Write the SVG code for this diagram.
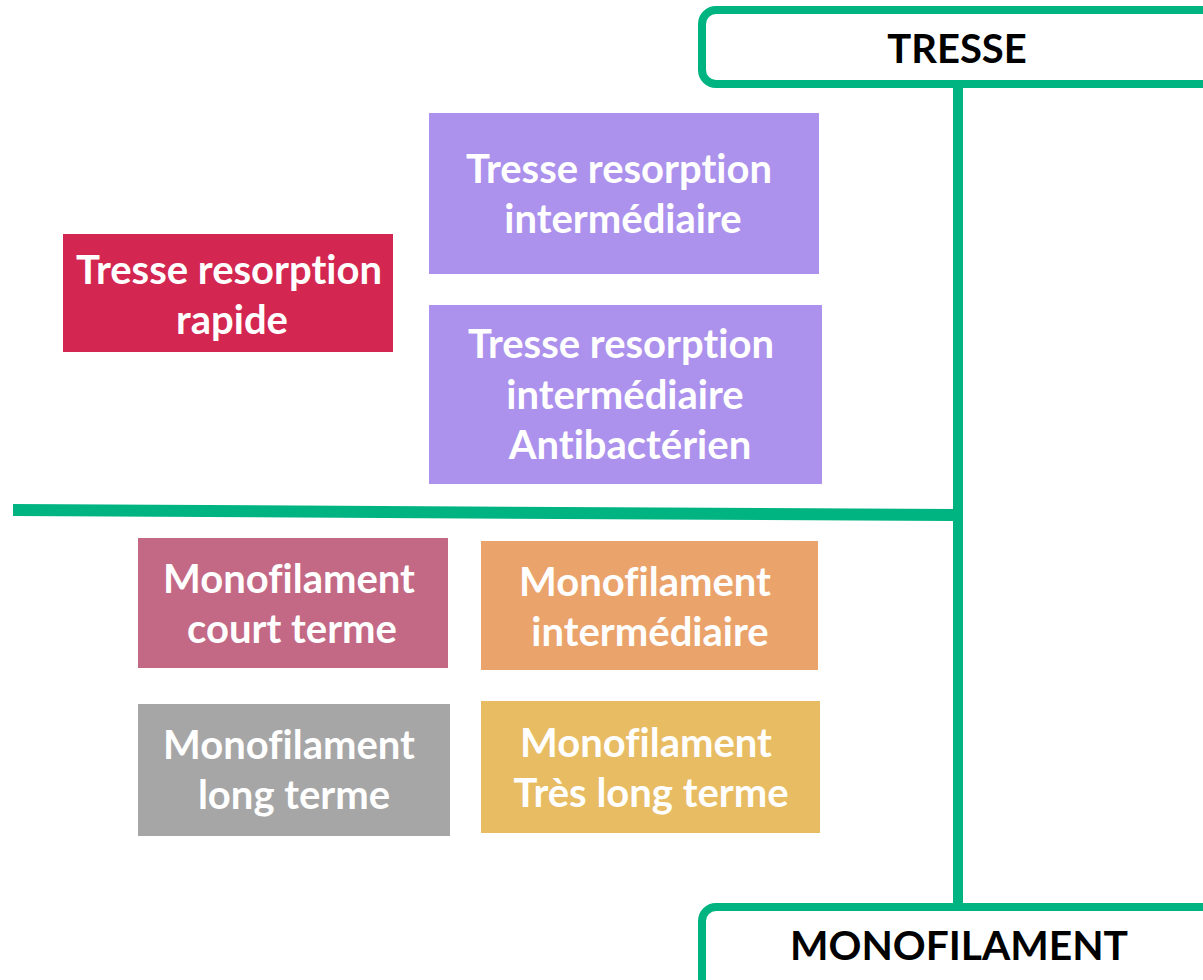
<svg xmlns="http://www.w3.org/2000/svg" width="1203" height="980" viewBox="0 0 1203 980">
<style>
.lbl{font-family:Lato,"Open Sans","Liberation Sans",sans-serif;font-weight:bold;font-size:40px;fill:#ffffff;text-anchor:middle;font-variant-ligatures:none}
.hd{font-family:Lato,"Open Sans","Liberation Sans",sans-serif;font-weight:bold;font-size:40px;fill:#000000;text-anchor:middle;font-variant-ligatures:none}
.frame{fill:#ffffff;stroke:#00B482;stroke-width:8}
.ln{stroke:#00B482;fill:none}
</style>
<rect x="0" y="0" width="1203" height="980" fill="#ffffff"/>
<g id="connectors">
<line class="ln" x1="958" y1="86" x2="958" y2="905" stroke-width="10"/>
<polygon points="13,504 953,509 953,521 13,516" fill="#00B482"/>
</g>
<g id="tresse">
<rect class="frame" x="702" y="10" width="560" height="74" rx="14"/>
<text class="hd" x="957" y="63">TRESSE</text>
</g>
<g id="monofilament">
<rect class="frame" x="702" y="907" width="560" height="120" rx="14"/>
<text class="hd" x="959" y="960" textLength="338" lengthAdjust="spacingAndGlyphs">MONOFILAMENT</text>
</g>
<g id="tresse-rapide">
<rect x="63" y="234" width="330" height="118" fill="#D32752"/>
<text class="lbl" x="229" y="284">Tresse resorption</text>
<text class="lbl" x="232" y="334">rapide</text>
</g>
<g id="tresse-intermediaire">
<rect x="429" y="113" width="390" height="161" fill="#AC92EC"/>
<text class="lbl" x="619" y="183">Tresse resorption</text>
<text class="lbl" x="623" y="233">intermédiaire</text>
</g>
<g id="tresse-antibacterien">
<rect x="429" y="305" width="393" height="179" fill="#AC92EC"/>
<text class="lbl" x="621" y="358">Tresse resorption</text>
<text class="lbl" x="625" y="409">intermédiaire</text>
<text class="lbl" x="630" y="459">Antibactérien</text>
</g>
<g id="mono-court">
<rect x="138" y="538" width="310" height="130" fill="#C36986"/>
<text class="lbl" x="289" y="593">Monofilament</text>
<text class="lbl" x="292" y="643">court terme</text>
</g>
<g id="mono-intermediaire">
<rect x="481" y="541" width="337" height="129" fill="#EBA36C"/>
<text class="lbl" x="645" y="596">Monofilament</text>
<text class="lbl" x="650" y="646">intermédiaire</text>
</g>
<g id="mono-long">
<rect x="138" y="704" width="312" height="132" fill="#A6A6A6"/>
<text class="lbl" x="289" y="759">Monofilament</text>
<text class="lbl" x="294" y="809">long terme</text>
</g>
<g id="mono-tres-long">
<rect x="481" y="701" width="339" height="132" fill="#E8BC63"/>
<text class="lbl" x="646" y="757">Monofilament</text>
<text class="lbl" x="651" y="807">Très long terme</text>
</g>
</svg>
